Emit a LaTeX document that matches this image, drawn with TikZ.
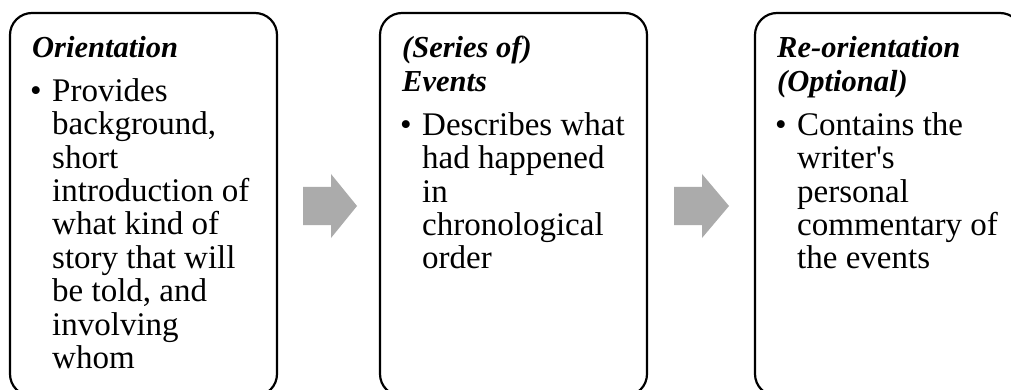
\documentclass[tikz,border=0pt]{standalone}
\usepackage{fontspec}
\setmainfont{Liberation Serif}
\tikzset{
  stagebox/.style={draw=black, line width=2.2pt, rounded corners=22pt},
  titletext/.style={anchor=north west, inner sep=0pt, align=left, font=\fontsize{30.5}{34}\selectfont\bfseries\itshape},
  bodytext/.style={anchor=north west, inner sep=0pt, align=left, font=\fontsize{33}{33.4}\selectfont},
  blockarrow/.style={fill=arrowgray, draw=none}
}
\definecolor{arrowgray}{HTML}{ABABAB}
\begin{document}
\begin{tikzpicture}[x=1pt,y=-1pt]
\useasboundingbox (0,0) rectangle (1011,390);
\clip (0,0) rectangle (1011,390);
\fill[white] (0,0) rectangle (1011,390);
% boxes
\draw[stagebox] (10,13) rectangle (277,396);
\draw[stagebox] (380,13) rectangle (647,396);
\draw[stagebox] (755,13) rectangle (1022,396);
% arrows
\fill[blockarrow] (303,187) -- (331,187) -- (331,174) -- (357,206) -- (331,238) -- (331,225) -- (303,225) -- cycle;
\fill[blockarrow] (674,187) -- (702,187) -- (702,174) -- (729,206) -- (702,238) -- (702,225) -- (674,225) -- cycle;
% box 1
\node[titletext] (t1) at (32,{57-0.7*34}) {\strut Orientation};
\node[bodytext] (b1d) at (30,{101-0.7*33.4}) {\strut\textbullet};
\node[bodytext] (b1) at (52,{101-0.7*33.4}) {\strut Provides\\background,\\short\\introduction of\\what kind of\\story that will\\be told, and\\involving\\whom};
% box 2
\node[titletext] (t2) at (402,{57-0.7*34}) {\strut (Series of)\\Events};
\node[bodytext] (b2d) at (400,{135-0.7*33.4}) {\strut\textbullet};
\node[bodytext] (b2) at (422,{135-0.7*33.4}) {\strut Describes what\\had happened\\in\\chronological\\order};
% box 3
\node[titletext] (t3) at (777,{57-0.7*34}) {\strut Re-orientation\\(Optional)};
\node[bodytext] (b3d) at (775,{135-0.7*33.4}) {\strut\textbullet};
\node[bodytext] (b3) at (797,{135-0.7*33.4}) {\strut Contains the\\writer\textquotesingle s\\personal\\commentary of\\the events};
\end{tikzpicture}
\end{document}
